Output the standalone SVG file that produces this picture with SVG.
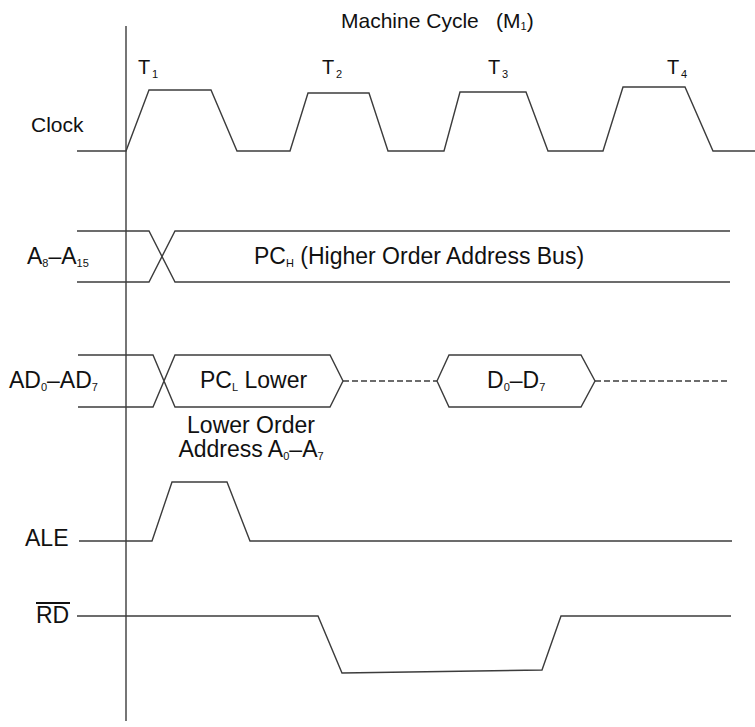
<svg xmlns="http://www.w3.org/2000/svg" width="755" height="727" viewBox="0 0 755 727">
<style>
.w{fill:none;stroke:#3c3c3c;stroke-width:1.4;stroke-linejoin:miter}
.d{fill:none;stroke:#3c3c3c;stroke-width:1.3;stroke-dasharray:6 3}
text{font-family:"Liberation Sans",Arial,sans-serif;fill:#111;font-size:23px}
.t{font-size:20px}
.m{font-size:21px}
.s{font-size:11px}
</style>
<rect width="755" height="727" fill="#fff"/>
<g id="title">
<text class="m" x="341" y="28">Machine Cycle<tspan x="496">(M</tspan><tspan class="s" dy="2">1</tspan><tspan dy="-2">)</tspan></text>
</g>
<g id="time-marker">
<line class="w" x1="126" y1="26" x2="126" y2="721"/>
</g>
<g id="clock">
<text class="m" x="31" y="132">Clock</text>
<text class="t" x="138" y="74">T<tspan class="s" x="152" dy="4">1</tspan></text>
<text class="t" x="322" y="74">T<tspan class="s" x="336" dy="4">2</tspan></text>
<text class="t" x="488" y="74">T<tspan class="s" x="502" dy="4">3</tspan></text>
<text class="t" x="667" y="74">T<tspan class="s" x="681" dy="4">4</tspan></text>
<polyline class="w" points="77,151 126,151 149,90 211,90 237,151 290,151 308,93 369,93 388,151 444,151 460,92 526,92 548,151 603,151 623,87 685,87 713,151 755,151"/>
</g>
<g id="a8-a15">
<text x="27" y="264">A<tspan class="s" dy="3">8</tspan><tspan dy="-3">–A</tspan><tspan class="s" dy="3">15</tspan></text>
<polyline class="w" points="77,231 149,231 175,282 730,282"/>
<polyline class="w" points="77,282 149,282 175,231 730,231"/>
<text x="254" y="264">PC<tspan class="s" dy="3">H</tspan><tspan dy="-3"> (Higher Order Address Bus)</tspan></text>
</g>
<g id="ad0-ad7">
<text x="9" y="388">AD<tspan class="s" dy="3">0</tspan><tspan dy="-3">–AD</tspan><tspan class="s" dy="3">7</tspan></text>
<polyline class="w" points="78,355 153,355 175,407 330,407 343,381 330,355 175,355 153,407 78,407"/>
<line class="d" x1="343" y1="381" x2="437" y2="381"/>
<polygon class="w" points="437,381 449,355 581,355 595,381 581,407 449,407"/>
<line class="d" x1="595" y1="381" x2="730" y2="381"/>
<text x="200" y="388">PC<tspan class="s" dy="3">L</tspan><tspan dy="-3"> Lower</tspan></text>
<text x="487" y="388">D<tspan class="s" dy="3">0</tspan><tspan dy="-3">–D</tspan><tspan class="s" dy="3">7</tspan></text>
<text x="251" y="433" text-anchor="middle">Lower Order</text>
<text x="251" y="457" text-anchor="middle">Address A<tspan class="s" dy="3">0</tspan><tspan dy="-3">–A</tspan><tspan class="s" dy="3">7</tspan></text>
</g>
<g id="ale">
<text x="25" y="546">ALE</text>
<polyline class="w" points="79,541 152,541 172,482 227,482 250,541 732,541"/>
</g>
<g id="rd">
<text x="36" y="623">RD</text>
<line x1="36" y1="603" x2="70" y2="603" stroke="#111" stroke-width="2"/>
<polyline class="w" points="77,616 318,616 342,673 542,670 561,616 731,616"/>
</g>
</svg>
